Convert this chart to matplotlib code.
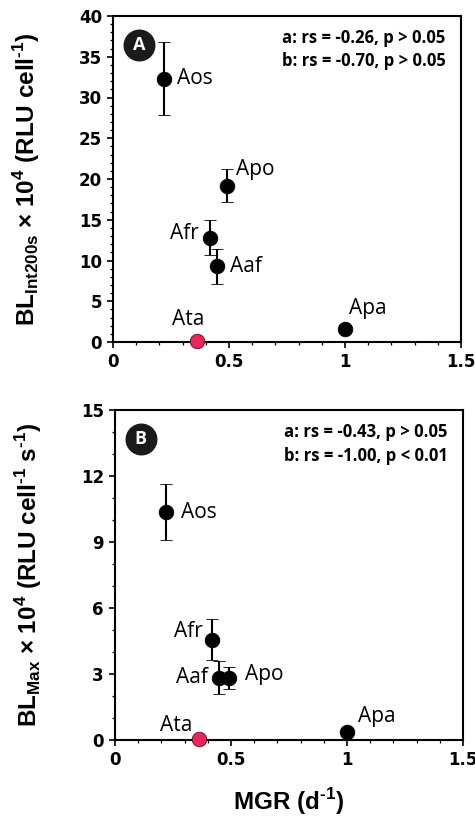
import matplotlib
matplotlib.use("Agg")
import matplotlib.pyplot as plt
from matplotlib.ticker import MultipleLocator

plt.rcParams['mathtext.fontset'] = 'custom'
plt.rcParams['mathtext.rm'] = 'Liberation Sans:bold'

species = ["Aos", "Apo", "Afr", "Aaf", "Apa", "Ata"]
mgr = [0.22, 0.49, 0.42, 0.45, 1.00, 0.36]
bl_int = [32.3, 19.2, 12.8, 9.3, 1.6, 0.1]
bl_int_err = [4.5, 2.05, 2.15, 2.15, 0.0, 0.0]
bl_max = [10.35, 2.8, 4.55, 2.82, 0.38, 0.05]
bl_max_err = [1.28, 0.5, 0.93, 0.75, 0.0, 0.0]
colors = ["black", "black", "black", "black", "black", "#E8265A"]

stats_a = ["a: rs = -0.26, p > 0.05", "b: rs = -0.70, p > 0.05"]
stats_b = ["a: rs = -0.43, p > 0.05", "b: rs = -1.00, p < 0.01"]

# label offsets in pixels (dx, dy, ha)
offs_a = {"Aos": (13, 0, "left"), "Apo": (9, 16, "left"), "Afr": (-12, 4, "right"),
          "Aaf": (13, 0, "left"), "Apa": (4, 20, "left"), "Ata": (-8, 22, "center")}
offs_b = {"Aos": (15, 0, "left"), "Apo": (16, 4, "left"), "Afr": (-10, 8, "right"),
          "Aaf": (-12, 0, "right"), "Apa": (11, 15, "left"), "Ata": (-6, 13, "right")}

W, H = 475, 818
fig = plt.figure(figsize=(W / 100, H / 100), dpi=100)
axA = fig.add_axes([113 / W, 1 - 342 / H, 348 / W, 326 / H])
axB = fig.add_axes([115 / W, 1 - 740 / H, 348 / W, 330 / H])


def draw(ax, yvals, yerr, ymax, ymajor, offs, stats, badge, ylabel):
    for i, s in enumerate(species):
        ax.errorbar(mgr[i], yvals[i], yerr=yerr[i] if yerr[i] > 0 else None,
                    fmt='o', color=colors[i], ecolor='black', markersize=10.5,
                    markeredgecolor='black' if colors[i] == 'black' else '#5a1020',
                    markeredgewidth=0.6, elinewidth=1.5, capsize=4.5, capthick=1.5,
                    zorder=5, clip_on=False)
        dx, dy, ha = offs[s]
        ax.annotate(s, (mgr[i], yvals[i]), xytext=(dx * 0.72, dy * 0.72),
                    textcoords='offset points', ha=ha, va='center',
                    fontsize=15, family='Open Sans', color='black', zorder=6)
    ax.set_xlim(0, 1.5)
    ax.set_ylim(0, ymax)
    ax.xaxis.set_minor_locator(MultipleLocator(0.1))
    ax.yaxis.set_major_locator(MultipleLocator(ymajor))
    ax.yaxis.set_minor_locator(MultipleLocator(1))
    ax.set_xticks([0, 0.5, 1, 1.5])
    ax.set_xticklabels(["0", "0.5", "1", "1.5"])
    ax.tick_params(which='major', direction='out', length=4, width=1.2,
                   labelsize=12, pad=4)
    ax.tick_params(which='minor', direction='out', length=2.5, width=0.9)
    for lab in ax.get_xticklabels() + ax.get_yticklabels():
        lab.set_fontfamily('DejaVu Sans')
        lab.set_fontweight('bold')
    for sp in ax.spines.values():
        sp.set_linewidth(1.5)
    ax.text(0.956, 0.932, stats[0], transform=ax.transAxes, ha='right', va='center',
            fontsize=12, family='Open Sans', fontweight='bold')
    ax.text(0.956, 0.862, stats[1], transform=ax.transAxes, ha='right', va='center',
            fontsize=12, family='Open Sans', fontweight='bold')
    ax.plot([0.074], [0.912], 'o', transform=ax.transAxes, markersize=22,
            color='#1a1a1a', clip_on=False, zorder=7)
    ax.text(0.074, 0.912, badge, transform=ax.transAxes, ha='center', va='center',
            color='white', fontsize=13, family='Open Sans', fontweight='bold', zorder=8)
    ax.set_ylabel(ylabel, fontsize=17.5, family='Liberation Sans', fontweight='bold')
    ax.yaxis.set_label_coords(-0.205, 0.5)


draw(axA, bl_int, bl_int_err, 40, 5, offs_a, stats_a, "A",
     r'BL$_{\mathregular{Int200s}}$ × 10$^{\mathregular{4}}$ (RLU cell$^{\text{-1}}$)')
draw(axB, bl_max, bl_max_err, 15, 3, offs_b, stats_b, "B",
     r'BL$_{\mathregular{Max}}$ × 10$^{\mathregular{4}}$ (RLU cell$^{\text{-1}}$ s$^{\text{-1}}$)')
axB.set_xlabel(r'MGR (d$^{\text{-1}}$)', fontsize=17.5, family='Liberation Sans',
               fontweight='bold', labelpad=12)

fig.savefig("out.png", dpi=100)
